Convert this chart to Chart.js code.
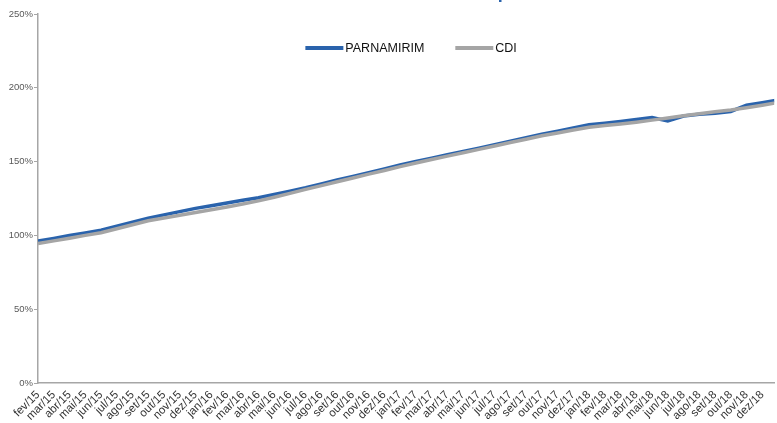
<!DOCTYPE html>
<html>
<head>
<meta charset="utf-8">
<script src="https://cdn.jsdelivr.net/npm/chart.js@4.4.1/dist/chart.umd.min.js"></script>
<style>
  html, body { margin: 0; padding: 0; background: #fff; overflow: hidden; }
  body { width: 777px; height: 423px; position: relative; }
  .lineChart { position: absolute; left: 0; top: -15px; width: 777px; height: 438px; }
</style>
</head>
<body>
<div class="lineChart">
  <canvas id="line-chart"></canvas>
</div>
<script>
const titleText = 'Rentabilidade acumulada no período';

const monthLabels = [
  'fev/15', 'mar/15', 'abr/15', 'mai/15', 'jun/15', 'jul/15', 'ago/15', 'set/15', 'out/15', 'nov/15', 'dez/15',
  'jan/16', 'fev/16', 'mar/16', 'abr/16', 'mai/16', 'jun/16', 'jul/16', 'ago/16', 'set/16', 'out/16', 'nov/16', 'dez/16',
  'jan/17', 'fev/17', 'mar/17', 'abr/17', 'mai/17', 'jun/17', 'jul/17', 'ago/17', 'set/17', 'out/17', 'nov/17', 'dez/17',
  'jan/18', 'fev/18', 'mar/18', 'abr/18', 'mai/18', 'jun/18', 'jul/18', 'ago/18', 'set/18', 'out/18', 'nov/18', 'dez/18'
];

// accumulated return (%), one value per month start, last one = end of dez/18
const parnamirimValues = [
  96.2, 98.0, 99.9, 101.7, 103.5, 106.2, 108.9, 111.6, 113.9, 116.1, 118.3,
  120.1, 122.0, 123.8, 125.5, 127.7, 130.0, 132.3, 134.9, 137.5, 140.0, 142.5, 145.1,
  147.7, 150.1, 152.3, 154.6, 156.8, 159.1, 161.5, 163.8, 166.2, 168.5, 170.6, 172.8,
  174.9, 176.0, 177.2, 178.5, 179.9, 177.5, 180.9, 182.0, 182.8, 184.0, 188.2, 189.9,
  191.7
];

const cdiValues = [
  94.5, 96.3, 98.1, 100.0, 101.8, 104.5, 107.2, 109.9, 111.8, 113.7, 115.5,
  117.4, 119.3, 121.3, 123.4, 125.9, 128.5, 131.2, 133.7, 136.3, 138.9, 141.5, 144.0,
  146.6, 149.1, 151.4, 153.7, 156.0, 158.3, 160.6, 162.9, 165.2, 167.5, 169.4, 171.4,
  173.3, 174.4, 175.5, 176.7, 178.1, 179.5, 181.0, 182.4, 183.8, 185.0, 186.5, 188.2,
  190.0
];

const yTicks = [0, 50, 100, 150, 200, 250];

const BLUE = '#2A63AC';
const GRAY = '#A5A5A5';
const AXIS = '#A6A6A6';

Chart.defaults.font.family = '"Liberation Sans", Arial, sans-serif';

const toPoints = (values) => values.map((v, i) => ({ x: i, y: v }));

// legend drawn inside the plot area, like the original
const inlineLegend = {
	id: 'inlineLegend',
	afterLayout(chart) {
		// centre the title over the plot area instead of the whole canvas
		chart.titleBlock.left = chart.chartArea.left;
		chart.titleBlock.right = chart.chartArea.right;
	},
	afterDatasetsDraw(chart) {
		const { ctx, chartArea } = chart;
		const sets = chart.data.datasets;
		const lineLen = 38, gap = 2, spacing = 31;
		ctx.save();
		ctx.font = '12.5px "Liberation Sans", Arial, sans-serif';
		ctx.textBaseline = 'middle';
		const widths = sets.map(d => lineLen + gap + ctx.measureText(d.label).width);
		const total = widths.reduce((a, b) => a + b, 0) + spacing * (sets.length - 1);
		let x = chartArea.left + (chartArea.width - total) / 2 + 5;
		const y = chartArea.top + 34;
		sets.forEach((d, i) => {
			ctx.strokeStyle = d.borderColor;
			ctx.lineWidth = 4;
			ctx.beginPath();
			ctx.moveTo(x, y);
			ctx.lineTo(x + lineLen, y);
			ctx.stroke();
			ctx.fillStyle = '#111';
			ctx.fillText(d.label, x + lineLen + gap, y + 0.5);
			x += widths[i] + spacing;
		});
		ctx.restore();
	}
};

const ctx = document.getElementById('line-chart').getContext('2d');

new Chart(ctx, {
	type: 'line',
	data: {
		datasets: [
			{
				label: 'PARNAMIRIM',
				data: toPoints(parnamirimValues),
				borderColor: BLUE,
				backgroundColor: BLUE,
				borderWidth: 3.5,
				pointRadius: 0,
				order: 1,
			},
			{
				label: 'CDI',
				data: toPoints(cdiValues),
				borderColor: GRAY,
				backgroundColor: GRAY,
				borderWidth: 3.5,
				pointRadius: 0,
				order: 0, // gray line sits on top of the blue one
			},
		],
	},
	options: {
		responsive: true,
		maintainAspectRatio: false,
		animation: false,
		layout: { padding: 0 },
		plugins: {
			legend: { display: false },
			tooltip: { enabled: false },
			title: {
				display: true,
				text: titleText,
				color: BLUE,
				font: { size: 18, weight: 'bold' },
				// title is mostly cut off by the top edge, as in the original
				padding: { top: -2.5, bottom: 9.9 },
			},
		},
		scales: {
			x: {
				type: 'linear',
				min: 0,
				max: 46.76,
				afterFit: (scale) => { scale.height = 40; },
				grid: { display: false, drawTicks: false },
				border: { display: true, color: AXIS, width: 1.5 },
				ticks: {
					stepSize: 1,
					autoSkip: false,
					includeBounds: false,
					minRotation: 45,
					maxRotation: 45,
					padding: 5,
					color: '#333',
					font: { size: 11.5 },
					callback: (v) => {
						const i = Math.round(v);
						return Math.abs(v - i) < 1e-6 && monthLabels[i] ? monthLabels[i] : '';
					},
				},
			},
			y: {
				min: yTicks[0],
				max: yTicks[yTicks.length - 1],
				afterFit: (scale) => { scale.width = 38; },
				grid: { drawOnChartArea: false, drawTicks: true, tickLength: 4, color: AXIS },
				border: { display: true, color: AXIS, width: 1.5 },
				ticks: {
					stepSize: 50,
					padding: 1,
					color: '#595959',
					font: { size: 9.5 },
					callback: (v) => v + '%',
				},
			},
		},
	},
	plugins: [inlineLegend],
});
</script>
</body>
</html>
